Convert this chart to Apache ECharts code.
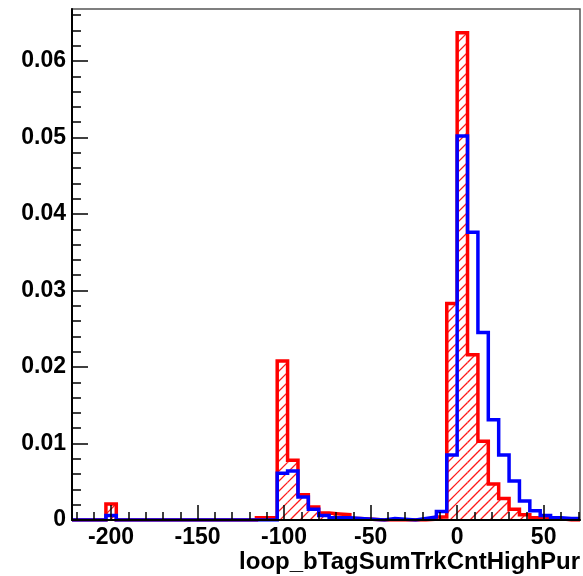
<!DOCTYPE html>
<html><head><meta charset="utf-8">
<script src="https://cdn.jsdelivr.net/npm/echarts@6/dist/echarts.min.js"></script>
<style>html,body{margin:0;padding:0;background:#fff}#c{width:583px;height:576px}</style>
</head><body><div id="c"></div>
<script>
// histogram bin edges (x units)
const binEdges = [-222.6, -203, -197, -116, -110, -104, -98, -92, -86, -80, -74, -68, -62, -56, -42, -36, -24, -18, -12, -6, 0, 6, 12, 18, 24, 30, 36, 42, 48, 54, 60, 66, 71];
// red (hatched) histogram contents per bin
const redValues = [0, 0.0021, 0, 0.0003, 0.0003, 0.0208, 0.0078, 0.0033, 0.0017, 0.0009, 0.0008, 0.0007, 0.0002, 0, 0, 0, 0, 0.0001, 0.0004, 0.0283, 0.0637, 0.0216, 0.0103, 0.0047, 0.0028, 0.0014, 0.0007, 0.0003, 0.0003, 0.0002, 0, 0];
// blue (outline) histogram contents per bin
const blueValues = [0, 0.0006, 0, 0, 0, 0.0061, 0.0064, 0.0030, 0.0014, 0.0006, 0.0003, 0.0003, 0.0002, 0, 0.0002, 0, 0.0002, 0.0004, 0.0011, 0.0085, 0.0502, 0.0376, 0.0245, 0.0131, 0.0085, 0.0051, 0.0025, 0.0012, 0.0006, 0.0003, 0.0002, 0.0002];
const xTickLabels = [-200, -150, -100, -50, 0, 50];
const xMinorTicks = [-220, -210, -190, -180, -170, -160, -140, -130, -120, -110, -90, -80, -70, -60, -40, -30, -20, -10, 10, 20, 30, 40, 60, 70];
const yTickLabels = [0, 0.01, 0.02, 0.03, 0.04, 0.05, 0.06];
const yMinorTicks = [0.002, 0.004, 0.006, 0.008, 0.012, 0.014, 0.016, 0.018, 0.022, 0.024, 0.026, 0.028, 0.032, 0.034, 0.036, 0.038, 0.042, 0.044, 0.046, 0.048, 0.052, 0.054, 0.056, 0.058, 0.062, 0.064, 0.066];
const xTitle = 'loop_bTagSumTrkCntHighPur';
const xMin = -222.6, xMax = 71, yMin = 0, yMax = 0.0668;

function stepPoints(edges, vals) {
  const pts = [];
  for (let i = 0; i < vals.length; i++) {
    pts.push([edges[i], vals[i]]);
    pts.push([edges[i + 1], vals[i]]);
  }
  return pts;
}
const redBins = redValues.map((v, i) => [binEdges[i], binEdges[i + 1], v]);

const HATCH = 10;
function renderHatch(params, api) {
  const p0 = api.coord([api.value(0), 0]);
  const p1 = api.coord([api.value(1), api.value(2)]);
  const x0 = Math.min(p0[0], p1[0]), x1 = Math.max(p0[0], p1[0]);
  const y0 = Math.min(p0[1], p1[1]), y1 = Math.max(p0[1], p1[1]);
  if (y1 - y0 < 0.5 || x1 - x0 < 0.5) return null;
  const children = [];
  const cStart = Math.ceil((x0 + y0) / HATCH) * HATCH;
  for (let c = cStart; c <= x1 + y1; c += HATCH) {
    const xa = Math.max(x0, c - y1), xb = Math.min(x1, c - y0);
    if (xb <= xa) continue;
    children.push({
      type: 'line', silent: true,
      shape: { x1: xa, y1: c - xa, x2: xb, y2: c - xb },
      style: { stroke: '#ff1a1a', fill: null, lineWidth: 1.3, opacity: 1 }
    });
  }
  return { type: 'group', children: children };
}

const font = 'Liberation Sans, Arial, Helvetica, sans-serif';
const lab = { fontSize: 23, fontWeight: 'bold', color: '#000', fontFamily: font };
const nameLab = { fontSize: 24, fontWeight: 'bold', color: '#000', fontFamily: font };

const chart = echarts.init(document.getElementById('c'), null, { renderer: 'canvas' });
chart.setOption({
  animation: false,
  backgroundColor: '#fff',
  color: ['#ff0000', '#ff0000', '#0000ff'],
  grid: { left: 72, right: 2, top: 9, bottom: 56, show: true, borderColor: '#555', borderWidth: 1.5, backgroundColor: 'transparent' },
  xAxis: [
    {
      type: 'value', min: xMin, max: xMax, position: 'bottom', z: 10,
      axisLine: { show: true, onZero: false, lineStyle: { color: '#000', width: 2 } },
      axisTick: { show: true, inside: true, length: 15, customValues: xTickLabels, lineStyle: { color: '#000', width: 1.5 } },
      axisLabel: Object.assign({ customValues: xTickLabels, margin: 6 }, lab),
      splitLine: { show: false },
      name: xTitle, nameLocation: 'end', nameGap: 0,
      nameTextStyle: Object.assign({ align: 'right', verticalAlign: 'top', padding: [30, 0, 0, 0] }, nameLab)
    },
    {
      type: 'value', min: xMin, max: xMax, position: 'bottom', z: 10,
      axisLine: { show: false, onZero: false },
      axisTick: { show: true, inside: true, length: 8, customValues: xMinorTicks, lineStyle: { color: '#000', width: 1.5 } },
      axisLabel: { show: false }, splitLine: { show: false }
    }
  ],
  yAxis: [
    {
      type: 'value', min: yMin, max: yMax, position: 'left', z: 10,
      axisLine: { show: true, onZero: false, lineStyle: { color: '#000', width: 2 } },
      axisTick: { show: true, inside: true, length: 16, customValues: yTickLabels, lineStyle: { color: '#000', width: 1.5 } },
      axisLabel: Object.assign({ customValues: yTickLabels, margin: 6 }, lab),
      splitLine: { show: false }
    },
    {
      type: 'value', min: yMin, max: yMax, position: 'left', z: 10,
      axisLine: { show: false, onZero: false },
      axisTick: { show: true, inside: true, length: 9, customValues: yMinorTicks, lineStyle: { color: '#000', width: 1.5 } },
      axisLabel: { show: false }, splitLine: { show: false }
    }
  ],
  series: [
    {
      type: 'custom', xAxisIndex: 0, yAxisIndex: 0, data: redBins,
      renderItem: renderHatch, clip: true, z: 1, silent: true,
      itemStyle: { color: '#ff0000' },
      encode: { x: [0, 1], y: 2 }
    },
    {
      type: 'line', xAxisIndex: 0, yAxisIndex: 0, data: stepPoints(binEdges, redValues),
      symbol: 'none', clip: true, z: 2,
      lineStyle: { color: '#ff0000', width: 3.5, join: 'miter', cap: 'butt' }
    },
    {
      type: 'line', xAxisIndex: 0, yAxisIndex: 0, data: stepPoints(binEdges, blueValues),
      symbol: 'none', clip: true, z: 3,
      lineStyle: { color: '#0000ff', width: 3.5, join: 'miter', cap: 'butt' }
    }
  ]
});
</script></body></html>
